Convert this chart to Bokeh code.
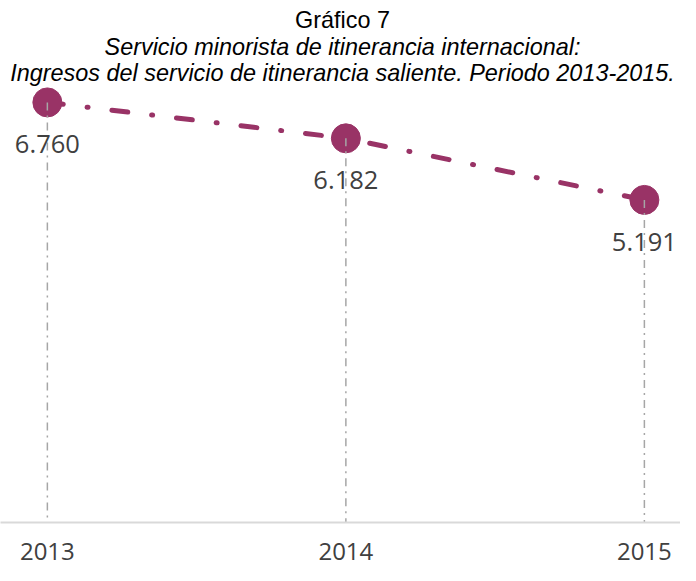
from bokeh.plotting import figure
from bokeh.models import Label, FixedTicker, Range1d
from bokeh.embed import file_html
from bokeh.resources import INLINE
from bokeh.core.properties import value

# ---- data ----
years = [2013, 2014, 2015]
revenue = [6760, 6182, 5191]
value_labels = ["6.760", "6.182", "5.191"]
tick_labels = ["2013", "2014", "2015"]
title_lines = [
    "Gráfico 7",
    "Servicio minorista de itinerancia internacional:",
    "Ingresos del servicio de itinerancia saliente. Periodo 2013-2015.",
]
baseline = [0, 0, 0]

W, H = 680, 565
FRAME_H = 522
PLUM = "#993366"
TXT = "#404040"

p = figure(width=W, height=H, output_backend="svg", toolbar_location=None,
           x_range=Range1d(2012.843, 2015.121), y_range=Range1d(0, 8400),
           y_axis_location=None, min_border=0, min_border_bottom=43,
           outline_line_color=None,
           background_fill_color="white", border_fill_color="white")
p.xgrid.visible = False
p.ygrid.visible = False

ax = p.xaxis[0]
ax.ticker = FixedTicker(ticks=years)
ax.major_label_overrides = {y: t for y, t in zip(years, tick_labels)}
ax.axis_line_color = "#d9d9d9"
ax.axis_line_width = 2
ax.major_tick_line_color = None
ax.minor_tick_line_color = None
ax.major_label_text_font = "Open Sans"
ax.major_label_text_font_size = "24px"
ax.major_label_text_color = TXT
ax.major_label_standoff = 14

# main dash-dot line
p.line(years, revenue, line_color=PLUM, line_width=5, line_cap="round",
       line_dash="16 24 1 24")
p.scatter(years, revenue, size=29, fill_color=PLUM, line_color=PLUM)
# vertical drop lines
p.segment(x0=years, y0=revenue, x1=years, y1=baseline, line_color="#a6a6a6",
          line_width=1.5, line_dash="8 5 2 5")
# value labels
p.text(x=years, y=revenue, text=value_labels, y_offset=42,
       text_align="center", text_baseline="middle",
       text_font=value("Open Sans"), text_font_size="25.5px", text_color=TXT)

# titles
offsets = [19.5, 46, 72]
for i, (line, off) in enumerate(zip(title_lines, offsets)):
    p.add_layout(Label(x=W / 2 + 2, y=FRAME_H - off, x_units="screen", y_units="screen",
                       text=line, text_align="center", text_baseline="middle",
                       text_font="Liberation Sans", text_font_size="23.4px",
                       text_font_style="normal" if i == 0 else "italic",
                       text_color="black"))

open("out.html", "w").write(file_html(p, INLINE))
